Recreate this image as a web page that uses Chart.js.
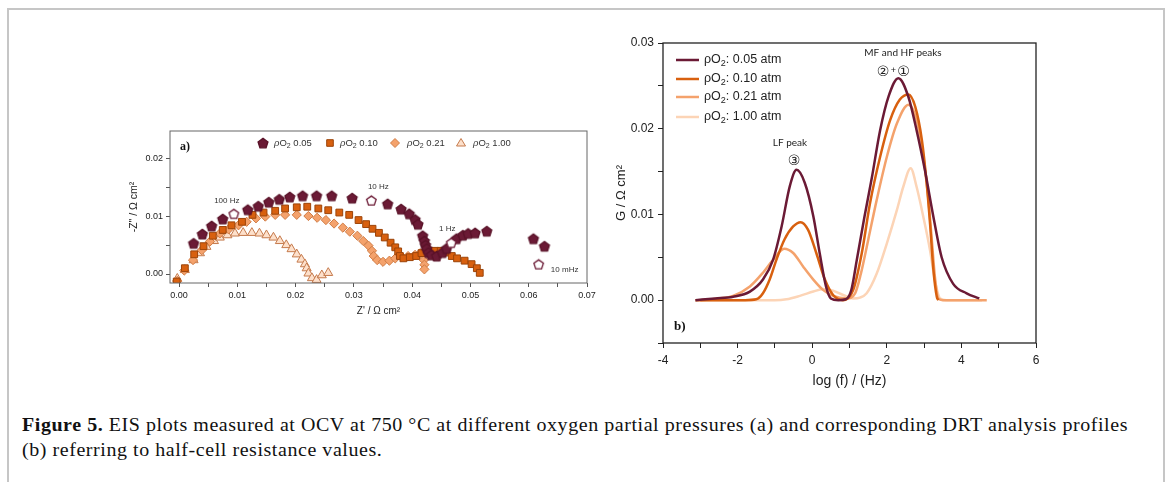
<!DOCTYPE html>
<html><head><meta charset="utf-8">
<script src="https://cdn.jsdelivr.net/npm/chart.js@4.4.1/dist/chart.umd.min.js"></script>
<style>
html,body{margin:0;padding:0;background:#fff;width:1170px;height:482px;overflow:hidden;position:relative;}
#frame{position:absolute;left:7px;top:8px;width:1154px;height:490px;border-left:2px solid #c6c6c6;border-top:2px solid #c6c6c6;border-right:2px solid #c6c6c6;}
#ca{position:absolute;left:100px;top:115px;}
#cb{position:absolute;left:600px;top:30px;}
#caption{position:absolute;left:22px;top:413px;font-family:"Liberation Serif",serif;font-size:18.5px;line-height:25px;color:#111;white-space:nowrap;}
#caption span{display:inline-block;}
</style></head><body>
<div id="frame"></div>
<canvas id="ca" width="500" height="215"></canvas>
<canvas id="cb" width="450" height="370"></canvas>
<div id="caption"><span id="cap1"><b>Figure 5.</b> EIS plots measured at OCV at 750 °C at different oxygen partial pressures (a) and corresponding DRT analysis profiles</span><br><span id="cap2">(b) referring to half-cell resistance values.</span></div>
<script>
// ---------- Panel a: EIS (Nyquist) data ----------
const eisSeriesNames = ['0.05', '0.10', '0.21', '1.00'];
const z05Re = [0.0025,0.0040,0.0056,0.0075,0.0118,0.0136,0.0154,0.0172,0.0190,0.0212,0.0236,0.0262,0.0297,0.0358,0.0381,0.0395,0.0405,0.0410,0.0418,0.0421,0.0423,0.0425,0.0428,0.0433,0.0442,0.0452,0.0459,0.0476,0.0487,0.0496,0.0508,0.0528,0.0608,0.0627];
const z05Im = [0.0053,0.0069,0.0083,0.0095,0.0111,0.0117,0.0124,0.0129,0.0133,0.0135,0.0135,0.0135,0.0131,0.0121,0.0112,0.0104,0.0094,0.0086,0.0066,0.0057,0.0050,0.0044,0.0037,0.0033,0.0031,0.0037,0.0044,0.0061,0.0067,0.0070,0.0071,0.0074,0.0061,0.0048];
const z10Re = [-0.0004,0.0010,0.0026,0.0042,0.0058,0.0075,0.0090,0.0108,0.0126,0.0145,0.0165,0.0182,0.0202,0.0220,0.0239,0.0256,0.0275,0.0292,0.0308,0.0321,0.0332,0.0343,0.0353,0.0363,0.0371,0.0376,0.0379,0.0385,0.0396,0.0407,0.0416,0.0428,0.0439,0.0449,0.0459,0.0468,0.0477,0.0490,0.0502,0.0511,0.0516];
const z10Im = [-0.0013,0.0010,0.0034,0.0048,0.0066,0.0076,0.0084,0.0090,0.0102,0.0106,0.0109,0.0113,0.0115,0.0116,0.0113,0.0110,0.0106,0.0102,0.0093,0.0086,0.0078,0.0071,0.0063,0.0054,0.0046,0.0039,0.0031,0.0027,0.0029,0.0031,0.0036,0.0040,0.0040,0.0040,0.0037,0.0031,0.0027,0.0023,0.0017,0.0010,0.0002];
const z21Re = [-0.0003,0.0009,0.0024,0.0039,0.0053,0.0070,0.0085,0.0102,0.0116,0.0132,0.0148,0.0165,0.0182,0.0202,0.0222,0.0237,0.0252,0.0266,0.0281,0.0293,0.0306,0.0316,0.0325,0.0331,0.0334,0.0340,0.0350,0.0361,0.0371,0.0382,0.0393,0.0405,0.0414,0.0420,0.0421,0.0421];
const z21Im = [-0.0012,0.0006,0.0024,0.0041,0.0056,0.0070,0.0077,0.0084,0.0090,0.0096,0.0099,0.0102,0.0102,0.0102,0.0100,0.0097,0.0093,0.0087,0.0080,0.0073,0.0066,0.0057,0.0049,0.0040,0.0031,0.0024,0.0021,0.0023,0.0027,0.0030,0.0031,0.0033,0.0036,0.0024,0.0016,0.0008];
const z100Re = [-0.0003,-0.0003,0.0010,0.0025,0.0036,0.0047,0.0060,0.0070,0.0083,0.0096,0.0110,0.0125,0.0138,0.0150,0.0162,0.0173,0.0184,0.0193,0.0202,0.0210,0.0216,0.0219,0.0222,0.0228,0.0236,0.0245,0.0256];
const z100Im = [-0.0008,-0.0014,0.0007,0.0024,0.0036,0.0047,0.0057,0.0063,0.0067,0.0070,0.0071,0.0071,0.0070,0.0067,0.0063,0.0057,0.0050,0.0043,0.0034,0.0025,0.0017,0.0010,0.0001,-0.0007,-0.0010,-0.0002,0.0002];
const freqRe = [0.0094, 0.0330, 0.0467, 0.0617];
const freqIm = [0.0104, 0.0127, 0.0054, 0.0017];
const freqLabels = ['100 Hz', '10 Hz', '1 Hz', '10 mHz'];
const eisXTicks = [0,0.005,0.01,0.015,0.02,0.025,0.03,0.035,0.04,0.045,0.05,0.055,0.06,0.065,0.07];
const eisYTicks = [0,0.005,0.01,0.015,0.02];

// ---------- Panel b: DRT data ----------
const drtNames = ['0.05 atm', '0.10 atm', '0.21 atm', '1.00 atm'];
const logF05 = [-3.13,-2.6,-2.12,-1.67,-1.32,-1.05,-0.82,-0.6,-0.42,-0.2,0.03,0.2,0.37,0.5,0.7,0.9,1.05,1.2,1.4,1.6,1.82,2.05,2.31,2.58,2.8,3.02,3.25,3.47,3.78,4.14,4.48];
const g05 = [0.0000,0.0002,0.0004,0.0010,0.0024,0.0047,0.0086,0.0133,0.0152,0.0137,0.0098,0.0055,0.0016,0.0002,0.0000,0.0001,0.0012,0.0048,0.0097,0.0143,0.0198,0.0238,0.0259,0.0237,0.0198,0.0152,0.0097,0.0050,0.0019,0.0008,0.0002];
const logF10 = [-3.13,-2.5,-1.8,-1.5,-1.32,-1.14,-0.96,-0.74,-0.51,-0.31,-0.11,0.11,0.34,0.56,0.83,1.1,1.33,1.55,1.82,2.09,2.35,2.58,2.76,2.94,3.07,3.16,3.25,3.34,3.38];
const g10 = [0.0000,0.0000,0.0000,0.0001,0.0008,0.0024,0.0047,0.0071,0.0086,0.0091,0.0082,0.0055,0.0024,0.0006,0.0000,0.0012,0.0055,0.0113,0.0167,0.0210,0.0234,0.0240,0.0226,0.0187,0.0136,0.0089,0.0035,0.0004,0.0000];
const logF21 = [-3.0,-2.5,-2.12,-1.67,-1.32,-1.05,-0.75,-0.51,-0.24,0.03,0.29,0.56,0.92,1.15,1.3,1.5,1.73,2.0,2.27,2.58,2.8,2.98,3.11,3.2,3.29,3.38,3.5,4.68];
const g21 = [0.0000,0.0002,0.0005,0.0016,0.0032,0.0047,0.0060,0.0055,0.0039,0.0024,0.0012,0.0005,0.0002,0.0008,0.0030,0.0070,0.0117,0.0167,0.0206,0.0228,0.0210,0.0167,0.0120,0.0074,0.0027,0.0002,0.0000,0.0000];
const logF100 = [-3.0,-1.0,-0.69,-0.33,0.03,0.29,0.56,0.83,1.1,1.28,1.46,1.73,2.0,2.27,2.44,2.64,2.8,2.98,3.16,3.29,3.43,3.6,4.55];
const g100 = [0.0000,0.0000,0.0001,0.0005,0.0010,0.0013,0.0011,0.0006,0.0002,0.0003,0.0008,0.0031,0.0066,0.0105,0.0132,0.0154,0.0132,0.0097,0.0058,0.0023,0.0002,0.0000,0.0000];
const drtXTicks = [-4,-3,-2,-1,0,1,2,3,4,5,6];
const drtYTicks = [-0.005,0,0.005,0.01,0.015,0.02,0.025,0.03];

const pts = (xs, ys) => xs.map((x, i) => ({x: x, y: ys[i]}));

// caption: spread line 1 to the reference width (part stretch, part spacing)
(function () {
  const c1 = document.getElementById('cap1'), c2 = document.getElementById('cap2');
  const sx = 1.08;
  const w = c1.getBoundingClientRect().width * sx;
  const n = c1.textContent.length;
  const ls = (1106 - w) / n / sx;
  [c1, c2].forEach(c => {
    c.style.letterSpacing = ls + 'px';
    c.style.transformOrigin = '0 0';
    c.style.transform = 'scaleX(' + sx + ')';
  });
})();

// colours
const cDark = '#6b1a35', cOrange = '#d8600f', cLight = '#f4a26c', cPale = '#fcd4b6';

function pentagon(fill, stroke, r) {
  const c = document.createElement('canvas');
  const s = Math.ceil(2 * r + 3);
  c.width = s; c.height = s;
  const g = c.getContext('2d');
  g.beginPath();
  for (let i = 0; i < 5; i++) {
    const a = -Math.PI / 2 + i * 2 * Math.PI / 5;
    const px = s / 2 + r * Math.cos(a), py = s / 2 + 0.6 + r * Math.sin(a);
    i ? g.lineTo(px, py) : g.moveTo(px, py);
  }
  g.closePath();
  g.fillStyle = fill; g.fill();
  g.lineWidth = 1.3; g.strokeStyle = stroke; g.stroke();
  return c;
}
const pentFilled = pentagon(cDark, '#5a1228', 5.2);
const pentOpen = pentagon('#ffffff', cDark, 5.0);

function richText(ctx, x, y, parts) {
  let cx = x;
  for (const p of parts) {
    ctx.font = p.font;
    ctx.fillText(p.t, cx, y + (p.dy || 0));
    cx += ctx.measureText(p.t).width;
  }
}

function boxPlugin(color, width) {
  return {
    id: 'box' + width,
    afterDraw(chart) {
      const a = chart.chartArea, ctx = chart.ctx;
      ctx.save();
      ctx.strokeStyle = color; ctx.lineWidth = width;
      ctx.strokeRect(a.left, a.top, a.right - a.left, a.bottom - a.top);
      ctx.restore();
    }
  };
}

function axisX(min, max, tickVals, isMajor, fmt, fontSize, titleText, titleSize, height, tickColor, tickLen, pad) {
  return {
    type: 'linear', min: min, max: max,
    afterBuildTicks: s => { s.ticks = tickVals.map(v => ({value: v})); },
    afterFit: s => { s.height = height; s.paddingLeft = 0; s.paddingRight = 0; },
    border: {display: false},
    grid: {display: true, drawOnChartArea: false, drawTicks: true, tickLength: tickLen, tickColor: tickColor, tickWidth: 1},
    ticks: {autoSkip: false, maxRotation: 0, padding: pad, color: '#222',
      font: {family: 'Liberation Sans', size: fontSize},
      callback: v => isMajor(v) ? fmt(v) : ''},
    title: {display: true, text: titleText, color: '#222', padding: 0, font: {family: 'Liberation Sans', size: titleSize}}
  };
}
function axisY(min, max, tickVals, isMajor, fmt, fontSize, titleText, titleSize, width, tickColor, tickLen, pad) {
  return {
    type: 'linear', min: min, max: max,
    afterBuildTicks: s => { s.ticks = tickVals.map(v => ({value: v})); },
    afterFit: s => { s.width = width; s.paddingTop = 0; s.paddingBottom = 0; },
    border: {display: false},
    grid: {display: true, drawOnChartArea: false, drawTicks: true, tickLength: tickLen, tickColor: tickColor, tickWidth: 1},
    ticks: {autoSkip: false, padding: pad, color: '#222',
      font: {family: 'Liberation Sans', size: fontSize},
      callback: v => isMajor(v) ? fmt(v) : ''},
    title: {display: true, text: titleText, color: '#222', padding: 0, font: {family: 'Liberation Sans', size: titleSize}}
  };
}
const isCent = v => Math.abs(v * 100 - Math.round(v * 100)) < 1e-6;

// ---------- Panel a annotations ----------
const annotA = {
  id: 'annotA',
  afterDraw(chart) {
    const ctx = chart.ctx;
    ctx.save();
    ctx.fillStyle = '#111';
    ctx.font = 'bold 12px "Liberation Serif"';
    ctx.textBaseline = 'middle';
    ctx.fillText('a)', 80, 32);
    const ly = 28;
    const lf = '9.5px "Liberation Sans"';
    const items = [
      {mx: 163, tx: 174, kind: 'pent'},
      {mx: 230, tx: 240, kind: 'rect'},
      {mx: 295, tx: 307, kind: 'diam'},
      {mx: 361, tx: 373, kind: 'tri'}
    ];
    items.forEach((it, i) => {
      ctx.save();
      if (it.kind === 'pent') ctx.drawImage(pentFilled, it.mx - pentFilled.width / 2, ly - pentFilled.height / 2);
      else {
        ctx.beginPath();
        if (it.kind === 'rect') { ctx.rect(it.mx - 3.3, ly - 3.3, 6.6, 6.6); ctx.fillStyle = cOrange; ctx.strokeStyle = '#9c4409'; }
        if (it.kind === 'diam') { ctx.moveTo(it.mx, ly - 4.5); ctx.lineTo(it.mx + 4.5, ly); ctx.lineTo(it.mx, ly + 4.5); ctx.lineTo(it.mx - 4.5, ly); ctx.closePath(); ctx.fillStyle = cLight; ctx.strokeStyle = '#d07c45'; }
        if (it.kind === 'tri') { ctx.moveTo(it.mx, ly - 4.5); ctx.lineTo(it.mx + 4.5, ly + 3); ctx.lineTo(it.mx - 4.5, ly + 3); ctx.closePath(); ctx.fillStyle = '#fde0cb'; ctx.strokeStyle = '#c57a4c'; }
        ctx.lineWidth = 1; ctx.fill(); ctx.stroke();
      }
      ctx.restore();
      ctx.fillStyle = '#333';
      ctx.textBaseline = 'middle';
      richText(ctx, it.tx, ly, [
        {t: 'ρ', font: 'italic ' + lf},
        {t: 'O', font: lf},
        {t: '2', font: '7px "Liberation Sans"', dy: 3},
        {t: ' ' + eisSeriesNames[i], font: lf}
      ]);
    });
    const xs = chart.scales.x, ys = chart.scales.y;
    const offs = [[-7, -13], [7, -14], [-4, -14], [26, 6]];
    ctx.font = '8px "Liberation Sans"';
    ctx.fillStyle = '#333';
    ctx.textAlign = 'center';
    freqLabels.forEach((lab, i) => {
      const px = xs.getPixelForValue(freqRe[i]) + offs[i][0];
      const py = ys.getPixelForValue(freqIm[i]) + offs[i][1];
      ctx.fillText(lab, px, py);
    });
    ctx.restore();
  }
};

new Chart(document.getElementById('ca'), {
  type: 'scatter',
  data: {
    datasets: [
      {label: 'freq', data: pts(freqRe, freqIm), pointStyle: pentOpen, pointRadius: 5},
      {label: eisSeriesNames[0], data: pts(z05Re, z05Im), pointStyle: pentFilled, pointRadius: 5},
      {label: eisSeriesNames[1], data: pts(z10Re, z10Im), pointStyle: 'rect', pointRadius: 4.8, backgroundColor: cOrange, borderColor: '#9c4409', borderWidth: 1},
      {label: eisSeriesNames[2], data: pts(z21Re, z21Im), pointStyle: 'rectRot', pointRadius: 4.6, backgroundColor: cLight, borderColor: '#d07c45', borderWidth: 1},
      {label: eisSeriesNames[3], data: pts(z100Re, z100Im), pointStyle: 'triangle', pointRadius: 5.2, backgroundColor: '#fde0cb', borderColor: '#c57a4c', borderWidth: 1}
    ]
  },
  options: {
    responsive: false, animation: false, devicePixelRatio: 1,
    layout: {padding: {left: 28, right: 13, top: 16, bottom: 13}},
    plugins: {legend: {display: false}, tooltip: {enabled: false}},
    scales: {
      x: axisX(-0.00155, 0.07, eisXTicks, isCent, v => v.toFixed(2), 9, "Z' / Ω cm²", 10, 34, '#555', 4, 3),
      y: axisY(-0.00155, 0.02466, eisYTicks, isCent, v => v.toFixed(2), 9, '-Z" / Ω cm²', 10.5, 42, '#555', 4, 3)
    }
  },
  plugins: [boxPlugin('#666', 1), annotA]
});

// ---------- Panel b annotations ----------
const annotB = {
  id: 'annotB',
  afterDraw(chart) {
    const ctx = chart.ctx;
    ctx.save();
    ctx.fillStyle = '#111';
    ctx.font = 'bold 13px "Liberation Serif"';
    ctx.textBaseline = 'middle';
    ctx.fillText('b)', 74, 297);
    const cols = [cDark, cOrange, cLight, cPale];
    const rows = [30, 49, 67, 87];
    const lf = '12.5px "Liberation Sans"';
    rows.forEach((y, i) => {
      ctx.strokeStyle = cols[i]; ctx.lineWidth = 2.5;
      ctx.beginPath(); ctx.moveTo(76, y); ctx.lineTo(99, y); ctx.stroke();
      ctx.fillStyle = '#222';
      richText(ctx, 104, y, [
        {t: 'ρO', font: lf},
        {t: '2', font: '9px "Liberation Sans"', dy: 4},
        {t: ': ' + drtNames[i], font: lf}
      ]);
    });
    ctx.textAlign = 'center';
    ctx.fillStyle = '#222';
    ctx.font = '10px Lato';
    ctx.fillText('LF peak', 190, 113);
    ctx.fillText('MF and HF peaks', 303, 23);
    ctx.font = '14px "DejaVu Sans"';
    ctx.fillText('③', 194, 131);
    ctx.fillText('②', 283, 42);
    ctx.fillText('①', 303.5, 42);
    ctx.font = '9px "Liberation Sans"';
    ctx.fillText('+', 293.3, 41);
    ctx.restore();
  }
};

const lineDs = (label, xs, ys, col) => ({
  label: label, data: pts(xs, ys), borderColor: col, backgroundColor: col,
  borderWidth: 2.5, pointRadius: 0, cubicInterpolationMode: 'monotone', fill: false
});

new Chart(document.getElementById('cb'), {
  type: 'line',
  data: {
    datasets: [
      lineDs(drtNames[0], logF05, g05, cDark),
      lineDs(drtNames[1], logF10, g10, cOrange),
      lineDs(drtNames[2], logF21, g21, cLight),
      lineDs(drtNames[3], logF100, g100, cPale)
    ]
  },
  options: {
    responsive: false, animation: false, devicePixelRatio: 1,
    layout: {padding: {left: 14, right: 14, top: 13, bottom: 10}},
    plugins: {legend: {display: false}, tooltip: {enabled: false}},
    scales: {
      x: axisX(-4, 6, drtXTicks, v => Math.abs(v % 2) < 1e-9, v => String(v), 12, 'log (f) / (Hz)', 14, 47, '#222', 5, 5),
      y: axisY(-0.005, 0.03, drtYTicks, v => isCent(v) && v >= 0, v => v.toFixed(2), 12, 'G / Ω cm²', 13, 49, '#222', 5, 4)
    }
  },
  plugins: [boxPlugin('#222', 1.3), annotB]
});
</script>
</body></html>
